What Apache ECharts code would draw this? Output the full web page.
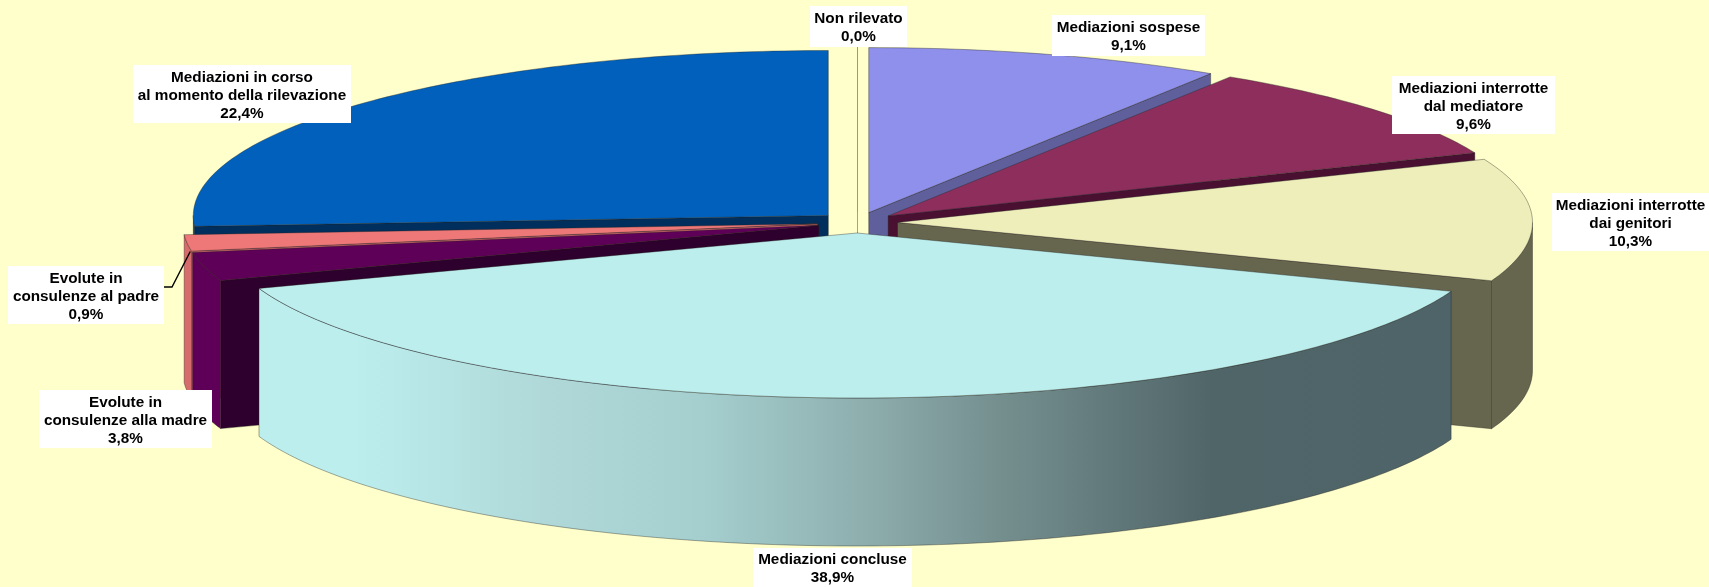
<!DOCTYPE html>
<html>
<head>
<meta charset="utf-8">
<style>html,body{margin:0;padding:0;background:#ffffcc}#c{width:1709px;height:587px}</style>
<script src="https://cdn.jsdelivr.net/npm/echarts@6/dist/echarts.min.js"></script>
</head>
<body>
<div id="c"></div>
<script>
// Slice names, clockwise from the top of the pie
const sliceNames = ['Non rilevato','Mediazioni sospese','Mediazioni interrotte\ndal mediatore','Mediazioni interrotte\ndai genitori','Mediazioni concluse','Evolute in\nconsulenze alla madre','Evolute in\nconsulenze al padre','Mediazioni in corso\nal momento della rilevazione'];
// Percentages printed on the labels (they add up to 95, not 100)
const labelledPercent = [0.0, 9.1, 9.6, 10.3, 38.9, 3.8, 0.9, 22.4];
// Share of the full circle each slice occupies
const drawnShare = [0.0, 9.05, 9.7, 12.0, 38.8, 2.8, 1.6, 26.05];

// Styles, per slice
const topColors  = ['#9a9a80','#8f8fec','#8e2e5c','#eeeebb','#bdeeee','#5e0058','#ee7777','#0060bc'];
const wallColors = ['#9a9a80','#5f5f9c','#4a1032','#66664f','#4f6468','#2d002d','#d66c6c','#002f5e'];
const rimColors  = ['#9a9a80','#5f5f9c','#4a1032','#66664f',null,'#5e0058','#d66c6c','#002f5e'];
// Layout of the label boxes: [left, top, right, bottom]
const labelBoxes = [[810,6,907,47],[1052,15,1205,56],[1392,76,1555,134],[1552,193,1709,251],[753,548,912,587],[39,390,212,448],[8,266,164,324],[133,65,351,123]];
// Pie layout
const pie = {cx:857.5, cy:222.6, rx:635, ry:165, depth:148, explode:40};

const rad = d => d * Math.PI / 180;
const total = drawnShare.reduce((s,v)=>s+v,0);
const cum = [];
drawnShare.reduce((s,v,i)=>{cum[i]=s;return s+v;},0);

function point(ax, ay, deg) {
  return [ax + pie.rx * Math.sin(rad(deg)), ay - pie.ry * Math.cos(rad(deg))];
}
function arc(ax, ay, a0, a1) {
  const pts = [];
  const n = Math.max(1, Math.ceil(Math.abs(a1 - a0)));
  for (let i = 0; i <= n; i++) pts.push(point(ax, ay, a0 + (a1 - a0) * i / n));
  return pts;
}
const down = p => [p[0], p[1] + pie.depth];
const edge = {stroke:'rgba(35,35,30,0.55)', lineWidth:0.7, lineJoin:'round'};

function renderSlice(params, api) {
  const i = params.dataIndex;
  const share = api.value(0);
  const a0 = cum[i] / total * 360;
  const a1 = a0 + share / total * 360;
  const mid = (a0 + a1) / 2;
  const ax = pie.cx + pie.explode * Math.sin(rad(mid));
  const ay = pie.cy - pie.explode * (pie.ry / pie.rx) * Math.cos(rad(mid));
  const base = Math.round(ay * 10);
  const apex = [ax, ay];
  const kids = [];
  const poly = (points, fill, z, stroke) => kids.push({
    type:'polygon', z2: base + z, silent:true,
    shape:{points},
    style:Object.assign({fill}, edge, stroke ? {stroke} : {})
  });
  // flat walls: only those turned towards the viewer
  const wallStart = Math.sin(rad(a0)) < -1e-6;
  const wallEnd = Math.sin(rad(a1)) >= -1e-6 && a1 < 359;
  const lineOnly = share === 0 ? topColors[i] : null;
  if (wallStart) { const p = point(ax, ay, a0); poly([apex, p, down(p), down(apex)], wallColors[i], 1); }
  if (wallEnd)   { const p = point(ax, ay, a1); poly([apex, p, down(p), down(apex)], wallColors[i], 1, lineOnly); }
  // curved rim: the part on the near half of the ellipse
  const r0 = Math.max(a0, 90), r1 = Math.min(a1, 270);
  if (r1 > r0) {
    const top = arc(ax, ay, r0, r1);
    const fill = rimColors[i] || {type:'linear', x:0, y:0, x2:1, y2:0, colorStops:[
      {offset:0, color:'#bceeee'},{offset:0.08, color:'#bceeee'},{offset:0.24, color:'#b0d8d8'},
      {offset:0.37, color:'#a5cfcf'},{offset:0.5, color:'#90b0b0'},{offset:0.62, color:'#758f8f'},
      {offset:0.8, color:'#506568'},{offset:1, color:'#4f6468'}]};
    poly(top.concat(top.map(down).reverse()), fill, 2);
  }
  // top face
  poly([apex].concat(arc(ax, ay, a0, a1)), topColors[i], 3, lineOnly);

  // label
  const b = labelBoxes[i];
  const pct = labelledPercent[i].toFixed(1).replace('.', ',') + '%';
  kids.push({type:'rect', z2:9000, silent:true, shape:{x:b[0], y:b[1], width:b[2]-b[0], height:b[3]-b[1]}, style:{fill:'#ffffff'}});
  kids.push({type:'text', z2:9001, silent:true, style:{
    x:(b[0]+b[2])/2, y:(b[1]+b[3])/2 + 1.5, text:sliceNames[i] + '\n' + pct,
    font:'bold 15.3px "Liberation Sans", Arial, sans-serif', lineHeight:18,
    fill:'#000000', align:'center', verticalAlign:'middle'
  }});
  // leader line of the padre label
  if (i === 6) {
    const t = point(ax, ay, a0 + 2);
    kids.push({type:'polyline', z2:8999, silent:true,
      shape:{points:[[b[2], (b[1]+b[3])/2 - 8], [b[2] + 8, (b[1]+b[3])/2 - 8], [t[0] + 2, t[1] + 6]]},
      style:{stroke:'#000', lineWidth:1.4, fill:null}});
  }
  return {type:'group', children:kids};
}

const chart = echarts.init(document.getElementById('c'), null, {renderer:'canvas'});
chart.setOption({
  animation:false,
  backgroundColor:'#ffffcc',
  series:[{
    type:'custom',
    coordinateSystem:'none',
    renderItem:renderSlice,
    data:sliceNames.map((n, i) => ({name:n, value:[drawnShare[i], labelledPercent[i]]}))
  }]
});
</script>
</body>
</html>
